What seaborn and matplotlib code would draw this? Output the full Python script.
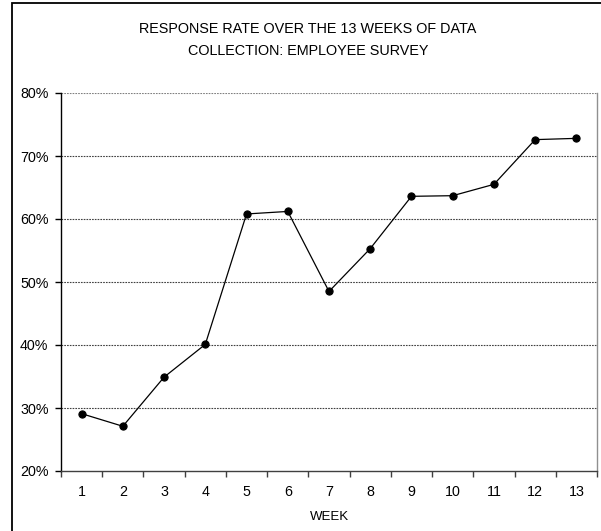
import matplotlib
matplotlib.use("Agg")
import matplotlib.pyplot as plt
import matplotlib.patches as mpatches
from matplotlib.ticker import FixedLocator, FuncFormatter
import seaborn as sns
import pandas as pd

weeks = [1, 2, 3, 4, 5, 6, 7, 8, 9, 10, 11, 12, 13]
response_rate = [29.1, 27.1, 34.9, 40.1, 60.8, 61.2, 48.5, 55.3, 63.6, 63.7, 65.5, 72.6, 72.8]
y_ticks = [20, 30, 40, 50, 60, 70, 80]
title_text = "RESPONSE RATE OVER THE 13 WEEKS OF DATA\nCOLLECTION: EMPLOYEE SURVEY"
x_label = "WEEK"

sns.set_theme(style="white")
plt.rcParams["font.family"] = ["Liberation Sans", "DejaVu Sans"]

df = pd.DataFrame({"week": weeks, "rate": response_rate})

W, H = 601, 531
fig = plt.figure(figsize=(W / 100, H / 100), dpi=100)
fig.patch.set_facecolor("white")

# outer chart frame (runs past the right and bottom edges)
frame = mpatches.Rectangle((11.5 / W, -0.2), 1.2, 1 + 0.2 - 2.5 / H,
                           transform=fig.transFigure, fill=False,
                           edgecolor="black", linewidth=1.3)
fig.patches.append(frame)

ax = fig.add_axes([61 / W, 1 - 471 / H, (597 - 61) / W, (471 - 93) / H])
ax.set_facecolor("white")

sns.lineplot(data=df, x="week", y="rate", ax=ax, color="black", linewidth=0.9,
             marker="o", markersize=5.2, markeredgecolor="black",
             markerfacecolor="black", zorder=3)

ax.set_xlim(0.5, 13.5)
ax.set_ylim(20, 80)

# dotted horizontal gridlines
for v in y_ticks[1:]:
    ax.axhline(v, color="#404040" if v < 80 else "#808080",
               linestyle=(0, (1.5, 1)), linewidth=0.8, zorder=1)

ax.set_yticks(y_ticks)
ax.yaxis.set_major_formatter(FuncFormatter(lambda v, p: f"{int(v)}%"))
ax.tick_params(axis="y", which="major", direction="out", length=4, width=1,
               color="black", pad=5, labelsize=10.3, labelcolor="black", left=True)

ax.set_xticks(weeks)
ax.set_xticklabels([str(w) for w in weeks])
ax.xaxis.set_minor_locator(FixedLocator([w + 0.5 for w in range(0, 14)]))
ax.tick_params(axis="x", which="major", length=0, pad=10, labelsize=10.3,
               labelcolor="black")
ax.tick_params(axis="x", which="minor", direction="out", length=4, width=1,
               color="#404040", bottom=True)

ax.spines["top"].set_visible(False)
ax.spines["left"].set_color("black")
ax.spines["left"].set_linewidth(1)
ax.spines["bottom"].set_color("#404040")
ax.spines["bottom"].set_linewidth(1)
ax.spines["right"].set_color("#909090")
ax.spines["right"].set_linewidth(1)

ax.set_xlabel(x_label, fontsize=9.5, labelpad=9, color="black")
ax.set_ylabel("")

fig.text(308 / W, 1 - 40 / H, title_text, ha="center", va="center",
         fontsize=10.4, linespacing=1.65, color="black")

fig.savefig("out.png", dpi=100, facecolor="white")
